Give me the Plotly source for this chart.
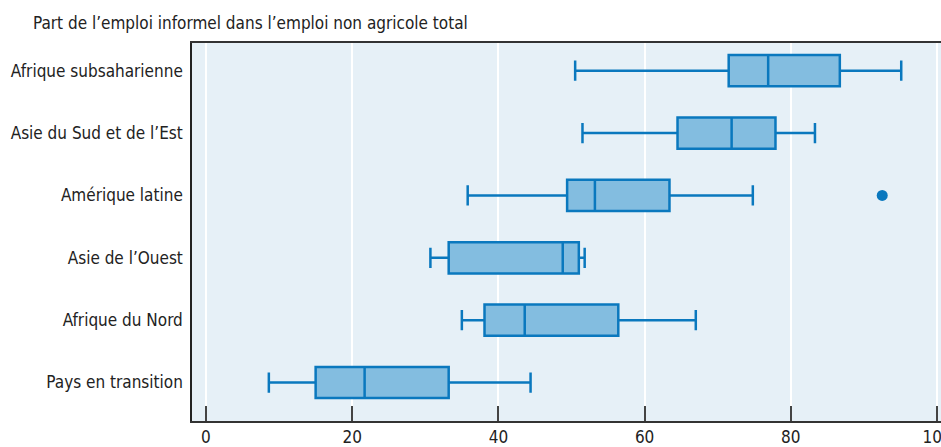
import plotly.graph_objects as go

regions = ["Pays en transition", "Afrique du Nord", "Asie de l\u2019Ouest",
           "Amérique latine", "Asie du Sud et de l\u2019Est", "Afrique subsaharienne"]
lower = [8.6, 35.0, 30.7, 35.8, 51.5, 50.5]
q1 = [15.0, 38.1, 33.2, 49.4, 64.5, 71.5]
median = [21.7, 43.6, 48.8, 53.2, 71.9, 76.9]
q3 = [33.2, 56.4, 51.0, 63.4, 77.9, 86.7]
upper = [44.4, 67.0, 51.8, 74.8, 83.3, 95.1]
outlier_region = ["Amérique latine"]
outlier_value = [92.5]
x_ticks = [0, 20, 40, 60, 80, 100]

font_family = "DejaVu Sans Condensed, Liberation Sans Narrow, Roboto, sans-serif"
line_c = "#0a78be"
fill_c = "#83bde0"

FIG_W = 960
PLOT_W = FIG_W - 192

fig = go.Figure()
fig.add_trace(go.Box(
    y=regions, q1=q1, median=median, q3=q3,
    lowerfence=lower, upperfence=upper,
    orientation="h", boxpoints=False,
    fillcolor=fill_c, line=dict(color=line_c, width=2.5),
    width=0.5, whiskerwidth=0.65, showlegend=False, hoverinfo="skip",
))
fig.add_trace(go.Scatter(
    x=outlier_value, y=outlier_region, mode="markers",
    marker=dict(color=line_c, size=11, symbol="circle"),
    showlegend=False, hoverinfo="skip",
))

fig.update_layout(
    width=FIG_W, height=447,
    margin=dict(l=192, r=0, t=43, b=26),
    paper_bgcolor="white", plot_bgcolor="#e6f0f7",
    font=dict(family=font_family, size=17, color="#222"),
    annotations=[dict(
        text="Part de l\u2019emploi informel dans l\u2019emploi non agricole total",
        xref="paper", yref="paper", x=(31 - 192) / PLOT_W, y=1, xanchor="left",
        yanchor="bottom", yshift=8, showarrow=False,
        font=dict(family=font_family, size=17, color="#222"),
    )],
)
fig.update_xaxes(
    range=[-1.91, -1.91 + PLOT_W / 7.33], tickvals=x_ticks,
    ticktext=[str(v) for v in x_ticks],
    showgrid=True, gridcolor="white", gridwidth=1.5, zeroline=False,
    ticks="inside", ticklen=15, tickwidth=1.5, tickcolor="#444",
    showline=True, linecolor="#333", linewidth=1.5, mirror=True,
    tickfont=dict(family=font_family, size=17, color="#222"),
)
fig.update_yaxes(
    type="category", categoryorder="array", categoryarray=regions,
    range=[-0.617, 5.444], showgrid=False, zeroline=False,
    showline=True, linecolor="#222", linewidth=1.5, mirror=True,
    ticks="", ticklabelstandoff=4,
    tickfont=dict(family=font_family, size=17, color="#222"),
)

fig.write_html(
    "out.html",
    config={"displayModeBar": False},
    post_script="document.body.style.margin='0';document.body.style.overflow='hidden';",
)
